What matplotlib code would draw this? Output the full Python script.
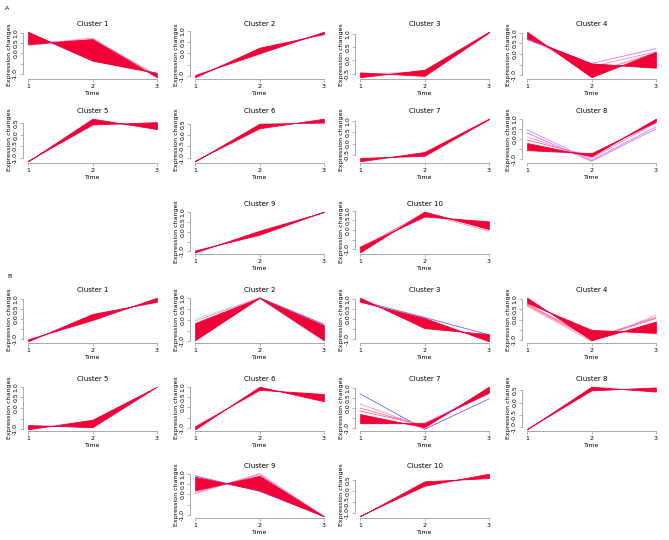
import numpy as np
import matplotlib
matplotlib.use("Agg")
from matplotlib import pyplot as plt
from matplotlib.colors import LinearSegmentedColormap

time = [1, 2, 3]

# red band of each cluster: two edge profiles (values at time 1, 2, 3)
a_edge1 = [[1.05, -0.35, -0.95], [-1.05, 0.25, 0.85], [-0.45, -0.58, 1.05], [1.05, -1.1, 0.1],
           [-1.15, 0.7, 0.25], [-1.15, 0.5, 0.55], [-0.65, -0.55, 1.1], [-0.2, -0.85, 1.0],
           [-1.05, 0.05, 1.0], [-1.15, 0.95, 0.05]]
a_edge2 = [[0.45, 0.7, -1.15], [-0.95, 0.0, 0.95], [-0.63, -0.35, 1.08], [0.75, -0.45, -0.65],
           [-1.12, 0.45, 0.55], [-1.12, 0.3, 0.72], [-0.8, -0.38, 1.12], [-0.55, -0.7, 0.85],
           [-0.95, -0.15, 1.02], [-0.85, 0.7, 0.45]]
b_edge1 = [[-1.1, 0.25, 0.85], [-0.95, 1.03, -0.25], [1.05, -0.45, -0.75], [1.05, -1.0, -0.1],
           [-0.8, -0.9, 1.0], [-1.05, 1.0, 0.3], [-0.3, -0.95, 1.05], [-1.1, 0.65, 0.45],
           [0.85, 0.2, -1.05], [-1.15, 0.45, 0.6]]
b_edge2 = [[-1.0, -0.05, 1.05], [-0.15, 1.03, -0.95], [0.85, 0.05, -1.1], [0.8, -0.5, -0.65],
           [-1.0, -0.55, 1.0], [-0.9, 0.85, 0.65], [-0.75, -0.75, 0.75], [-1.08, 0.5, 0.62],
           [0.2, 0.9, -1.05], [-1.12, 0.25, 0.8]]

# lower-membership lines: (membership, profile)
a_extra = [
    [(0.8, [0.4, 0.75, -1.1]), (0.85, [0.5, 0.65, -1.05]), (0.3, [1.0, -0.35, -0.95])],
    [(0.8, [-1.05, 0.1, 0.9])],
    [(0.8, [-0.5, -0.45, 1.05])],
    [(0.55, [0.72, -0.45, 0.25]), (0.3, [0.68, -0.48, -0.65]), (0.8, [0.8, -0.6, 0.1]),
     (0.85, [0.85, -0.9, 0.05])],
    [],
    [],
    [],
    [(0.85, [-0.05, -0.85, 0.95]), (0.8, [0.1, -0.95, 0.8]), (0.6, [0.45, -1.05, 0.6]),
     (0.55, [0.3, -1.1, 0.5])],
    [],
    [(0.8, [-0.9, 0.85, -0.05]), (0.85, [-1.0, 0.9, 0.1])],
]
b_extra = [
    [],
    [(0.0, [0.05, 1.0, -1.0]), (0.3, [-0.95, 1.03, -0.2]), (0.8, [-0.05, 1.02, -0.9])],
    [(0.3, [0.9, 0.08, -0.78])],
    [(0.8, [0.65, -1.05, 0.2]), (0.85, [0.7, -0.95, 0.05]), (0.85, [0.75, -0.9, 0.1])],
    [],
    [],
    [(0.3, [0.7, -1.05, 0.45]), (0.8, [0.2, -0.95, 0.95]), (0.85, [0.0, -0.9, 0.9]),
     (0.85, [-0.15, -0.85, 0.85]), (0.6, [-0.75, -0.75, 0.8])],
    [],
    [(0.3, [0.9, 0.15, -1.05]), (0.6, [0.05, 1.0, -1.05]), (0.8, [0.1, 0.95, -1.05])],
    [],
]

membership_cmap = LinearSegmentedColormap.from_list(
    "mfuzz", [(0.0, "#a8dcf5"), (0.3, "#6f5cff"), (0.6, "#e07cff"), (0.8, "#ff8fb4"), (1.0, "#f20038")])

W, H = 669, 540
col_left = [23, 190, 355, 522]
rows_a = [(30, 79), (117, 163), (210, 254)]
rows_b = [(296, 343), (385, 431), (472, 518)]
slots = [(0, 0), (0, 1), (0, 2), (0, 3), (1, 0), (1, 1), (1, 2), (1, 3), (2, 1), (2, 2)]
axis_gray = "#9a9a9a"

fig = plt.figure(figsize=(W / 100, H / 100), dpi=100)


def draw_cluster(rect, num, e1, e2, extras):
    ax = fig.add_axes(rect)
    for m, prof in extras:
        ax.plot(time, prof, color=membership_cmap(m), lw=0.6, zorder=2)
    ax.fill_between(time, e1, e2, color=membership_cmap(1.0), lw=0.6, zorder=3)
    vals = np.array([e1, e2] + [p for _, p in extras])
    lo, hi = vals.min(), vals.max()
    pad = (hi - lo) * 0.04
    ax.set_ylim(lo - pad, hi + pad)
    ax.set_xlim(0.92, 3.08)
    yt = [t for t in (-1.0, -0.5, 0.0, 0.5, 1.0) if lo - pad <= t <= hi + pad]
    labels = [f"{t:.1f}" for t in yt]
    if len(yt) == 5:
        labels[1] = ""
    ax.set_yticks(yt)
    ax.set_yticklabels(labels, rotation=90, va="center")
    ax.set_xticks(time)
    for s in ("top", "right"):
        ax.spines[s].set_visible(False)
    ax.spines["left"].set_bounds(yt[0], yt[-1])
    ax.spines["bottom"].set_bounds(1, 3)
    for s in ("left", "bottom"):
        ax.spines[s].set_color(axis_gray)
        ax.spines[s].set_linewidth(0.6)
    ax.tick_params(labelsize=4.5, length=2, width=0.5, color=axis_gray, pad=1.5)
    ax.set_title(f"Cluster {num}", fontsize=5, pad=3)
    ax.set_xlabel("Time", fontsize=4.5, labelpad=1.5)
    ax.set_ylabel("Expression changes", fontsize=4.5, labelpad=1)
    ax.patch.set_visible(False)


for rows, e1s, e2s, extras in ((rows_a, a_edge1, a_edge2, a_extra), (rows_b, b_edge1, b_edge2, b_extra)):
    for i, (r, c) in enumerate(slots):
        top, bot = rows[r]
        rect = [col_left[c] / W, 1 - bot / H, 139 / W, (bot - top) / H]
        draw_cluster(rect, i + 1, e1s[i], e2s[i], extras[i])

fig.text(5 / W, 1 - 8 / H, "A", fontsize=4.5, va="center")
fig.text(7 / W, 1 - 276 / H, "B", fontsize=4.5, va="center")

fig.savefig("out.png", dpi=100, facecolor="white")
